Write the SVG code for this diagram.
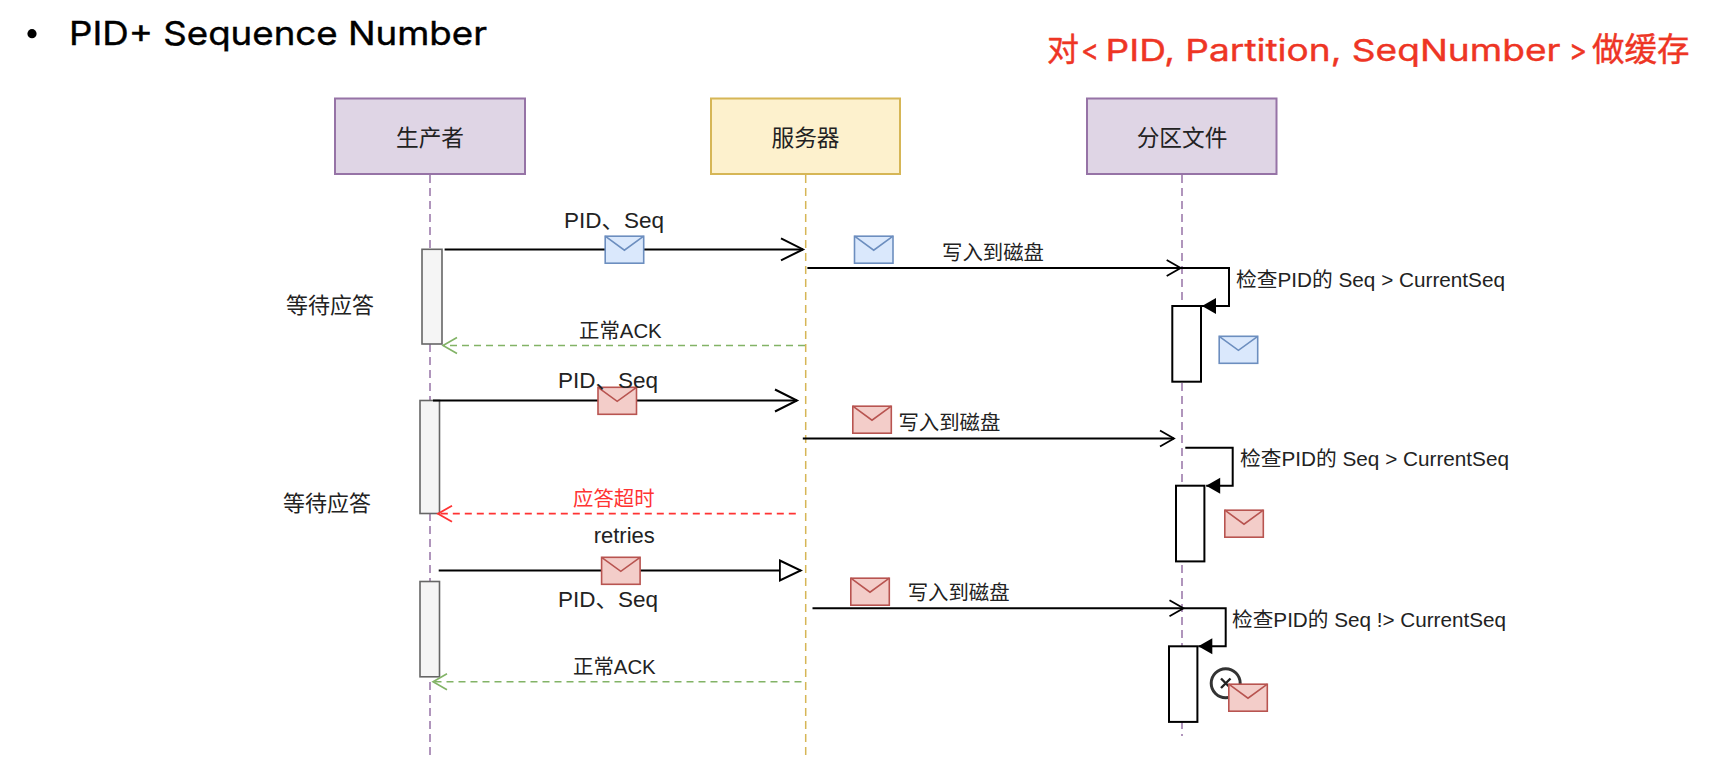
<svg xmlns="http://www.w3.org/2000/svg" width="1728" height="762" viewBox="0 0 1728 762">
<style>
text{font-family:"Liberation Sans","Noto Sans CJK SC",sans-serif;fill:#222}
.lbl{font-size:22px}
.head{font-size:22.7px}
.sm{font-size:20.4px}
.mid{text-anchor:middle}
.box{stroke-width:2}
.purple{fill:#dfd5e5;stroke:#9673a6}
.yellow{fill:#fdf1cd;stroke:#d6b656}
.life{fill:none;stroke-width:1.5;stroke-dasharray:8 5}
.msg{fill:none;stroke:#000;stroke-width:2}
.ack{fill:none;stroke:#82b366;stroke-width:1.6;stroke-dasharray:7 5}
.late{fill:none;stroke:#ff3333;stroke-width:1.8;stroke-dasharray:7 5}
.wait{fill:#f5f5f5;stroke:#666;stroke-width:1.6}
.run{fill:#fff;stroke:#000;stroke-width:2}
.blue{fill:#dae8fc;stroke:#6c8ebf;stroke-width:1.6}
.rose{fill:#f3cdc9;stroke:#b85450;stroke-width:1.6}
</style>
<defs>
<marker id="openBig" markerUnits="userSpaceOnUse" markerWidth="26" markerHeight="28" refX="23" refY="14" orient="auto"><path d="M1,3 L23,14 L1,25" fill="none" stroke="#000" stroke-width="2"/></marker>
<marker id="openSmall" markerUnits="userSpaceOnUse" markerWidth="18" markerHeight="20" refX="16" refY="10" orient="auto"><path d="M2,2 L16,10 L2,18" fill="none" stroke="#000" stroke-width="1.8"/></marker>
<marker id="openGreen" markerUnits="userSpaceOnUse" markerWidth="18" markerHeight="20" refX="16" refY="10" orient="auto"><path d="M2,2 L16,10 L2,18" fill="none" stroke="#82b366" stroke-width="1.6"/></marker>
<marker id="openRed" markerUnits="userSpaceOnUse" markerWidth="18" markerHeight="20" refX="16" refY="10" orient="auto"><path d="M2,2 L16,10 L2,18" fill="none" stroke="#ff3333" stroke-width="1.8"/></marker>
<marker id="solid" markerUnits="userSpaceOnUse" markerWidth="16" markerHeight="18" refX="15" refY="9" orient="auto"><path d="M1,1 L15,9 L1,17 Z" fill="#000"/></marker>
<marker id="hollow" markerUnits="userSpaceOnUse" markerWidth="24" markerHeight="26" refX="22" refY="13" orient="auto"><path d="M1,3 L22,13 L1,23 Z" fill="#fff" stroke="#000" stroke-width="2"/></marker>
<g id="mail"><rect x="0" y="0" width="38.5" height="27"/><path d="M0,0 L19.2,14 L38.5,0" fill="none"/></g>
</defs>
<rect width="1728" height="762" fill="#fff"/>

<g id="heading">
<circle cx="32" cy="33.7" r="4.6" fill="#000"/>
<text x="69" y="45" font-size="33" style="font-family:Inter,'Noto Sans',sans-serif;fill:#000;stroke:#000;stroke-width:.4" textLength="418" lengthAdjust="spacingAndGlyphs">PID+ Sequence Number</text>
</g>
<g id="cache-note">
<text y="60.5" font-size="30" style="font-family:Inter,'Noto Sans CJK SC',sans-serif;fill:#ee3524;stroke:#ee3524;stroke-width:.4"><tspan x="1047" font-size="32">对</tspan><tspan x="1081" textLength="18" lengthAdjust="spacingAndGlyphs">&lt;</tspan><tspan x="1105.5" textLength="455" lengthAdjust="spacingAndGlyphs">PID, Partition, SeqNumber</tspan><tspan x="1569" textLength="18" lengthAdjust="spacingAndGlyphs">&gt;</tspan><tspan x="1592" font-size="32.5">做缓存</tspan></text>
</g>

<g id="lifelines">
<path class="life" stroke="#9673a6" d="M430,175 V758"/>
<path class="life" stroke="#d6b656" d="M805.7,175 V758"/>
<path class="life" stroke="#9673a6" d="M1182,175 V736"/>
</g>

<g id="producer"><rect class="box purple" x="335" y="98.5" width="190" height="75.5"/><text class="head mid" x="430" y="146">生产者</text></g>
<g id="server"><rect class="box yellow" x="711" y="98.5" width="189" height="75.5"/><text class="head mid" x="805.5" y="146">服务器</text></g>
<g id="partition"><rect class="box purple" x="1087" y="98.5" width="189.5" height="75.5"/><text class="head mid" x="1182" y="146">分区文件</text></g>

<g id="activations">
<rect class="wait" x="422" y="249.3" width="20" height="94.7"/>
<rect class="wait" x="420" y="400.5" width="19.5" height="113"/>
<rect class="wait" x="420" y="581.5" width="19.5" height="95.3"/>
<rect class="run" x="1172.3" y="306" width="28.7" height="75.7"/>
<rect class="run" x="1176" y="485.7" width="28.4" height="75.7"/>
<rect class="run" x="1169" y="646.3" width="28.4" height="75.6"/>
</g>

<g id="connectors">
<path class="msg" marker-end="url(#openBig)" d="M444.6,249.4 H803"/>
<path class="msg" marker-end="url(#openSmall)" d="M807.4,268 H1180.7"/>
<path class="msg" marker-end="url(#solid)" d="M1180.7,268 H1229 V306 H1202"/>
<path class="ack" marker-end="url(#openGreen)" d="M805,345.5 H443"/>
<path class="msg" marker-end="url(#openBig)" d="M433,400.5 H797"/>
<path class="msg" marker-end="url(#openSmall)" d="M802.8,438.5 H1174"/>
<path class="msg" marker-end="url(#solid)" d="M1185.3,447.7 H1232.7 V485.7 H1206.2"/>
<path class="late" marker-end="url(#openRed)" d="M795.8,513.7 H438"/>
<path class="msg" marker-end="url(#hollow)" d="M438.7,570.5 H800.8"/>
<path class="msg" marker-end="url(#openSmall)" d="M812.5,608.3 H1183.5"/>
<path class="msg" marker-end="url(#solid)" d="M1183.5,608.3 H1225.7 V646.3 H1198.3"/>
<path class="ack" marker-end="url(#openGreen)" d="M801.5,681.8 H433"/>
</g>

<g id="discard-mark">
<circle cx="1225.7" cy="683.3" r="14.5" fill="#fff" stroke="#333" stroke-width="3"/>
<path d="M1221,678.5 L1230.5,688 M1230.5,678.5 L1221,688" stroke="#222" stroke-width="2.4" fill="none"/>
</g>

<g id="messages">
<use href="#mail" class="blue" transform="translate(605.2,236.2)"/>
<use href="#mail" class="blue" transform="translate(854.5,236.2)"/>
<use href="#mail" class="blue" transform="translate(1219.2,336.3)"/>
<use href="#mail" class="rose" transform="translate(598,387.3)"/>
<use href="#mail" class="rose" transform="translate(852.8,406.2)"/>
<use href="#mail" class="rose" transform="translate(1224.8,510.2)"/>
<use href="#mail" class="rose" transform="translate(601.6,557.3)"/>
<use href="#mail" class="rose" transform="translate(850.8,578.2)"/>
<use href="#mail" class="rose" transform="translate(1228.8,684.2)"/>
</g>

<g id="labels">
<text class="lbl" x="564" y="227.5" textLength="100" lengthAdjust="spacingAndGlyphs">PID、Seq</text>
<text class="sm" x="579" y="338">正常ACK</text>
<text class="sm" x="942" y="260">写入到磁盘</text>
<text class="sm" x="1236" y="286.5" textLength="269" lengthAdjust="spacingAndGlyphs">检查PID的 Seq &gt; CurrentSeq</text>
<text class="lbl" x="286" y="313">等待应答</text>
<text class="lbl" x="558" y="387.5" textLength="100" lengthAdjust="spacingAndGlyphs">PID、Seq</text>
<text class="sm" x="898.4" y="430">写入到磁盘</text>
<text class="sm" x="1240" y="466" textLength="269" lengthAdjust="spacingAndGlyphs">检查PID的 Seq &gt; CurrentSeq</text>
<text class="lbl" x="283" y="510.5">等待应答</text>
<text class="sm" x="573" y="506" style="fill:#ff3333">应答超时</text>
<text class="lbl" x="593.7" y="543">retries</text>
<text class="lbl" x="558" y="607" textLength="100" lengthAdjust="spacingAndGlyphs">PID、Seq</text>
<text class="sm" x="907.7" y="600">写入到磁盘</text>
<text class="sm" x="1232" y="627" textLength="274" lengthAdjust="spacingAndGlyphs">检查PID的 Seq !&gt; CurrentSeq</text>
<text class="sm" x="573" y="673.5">正常ACK</text>
</g>
</svg>
